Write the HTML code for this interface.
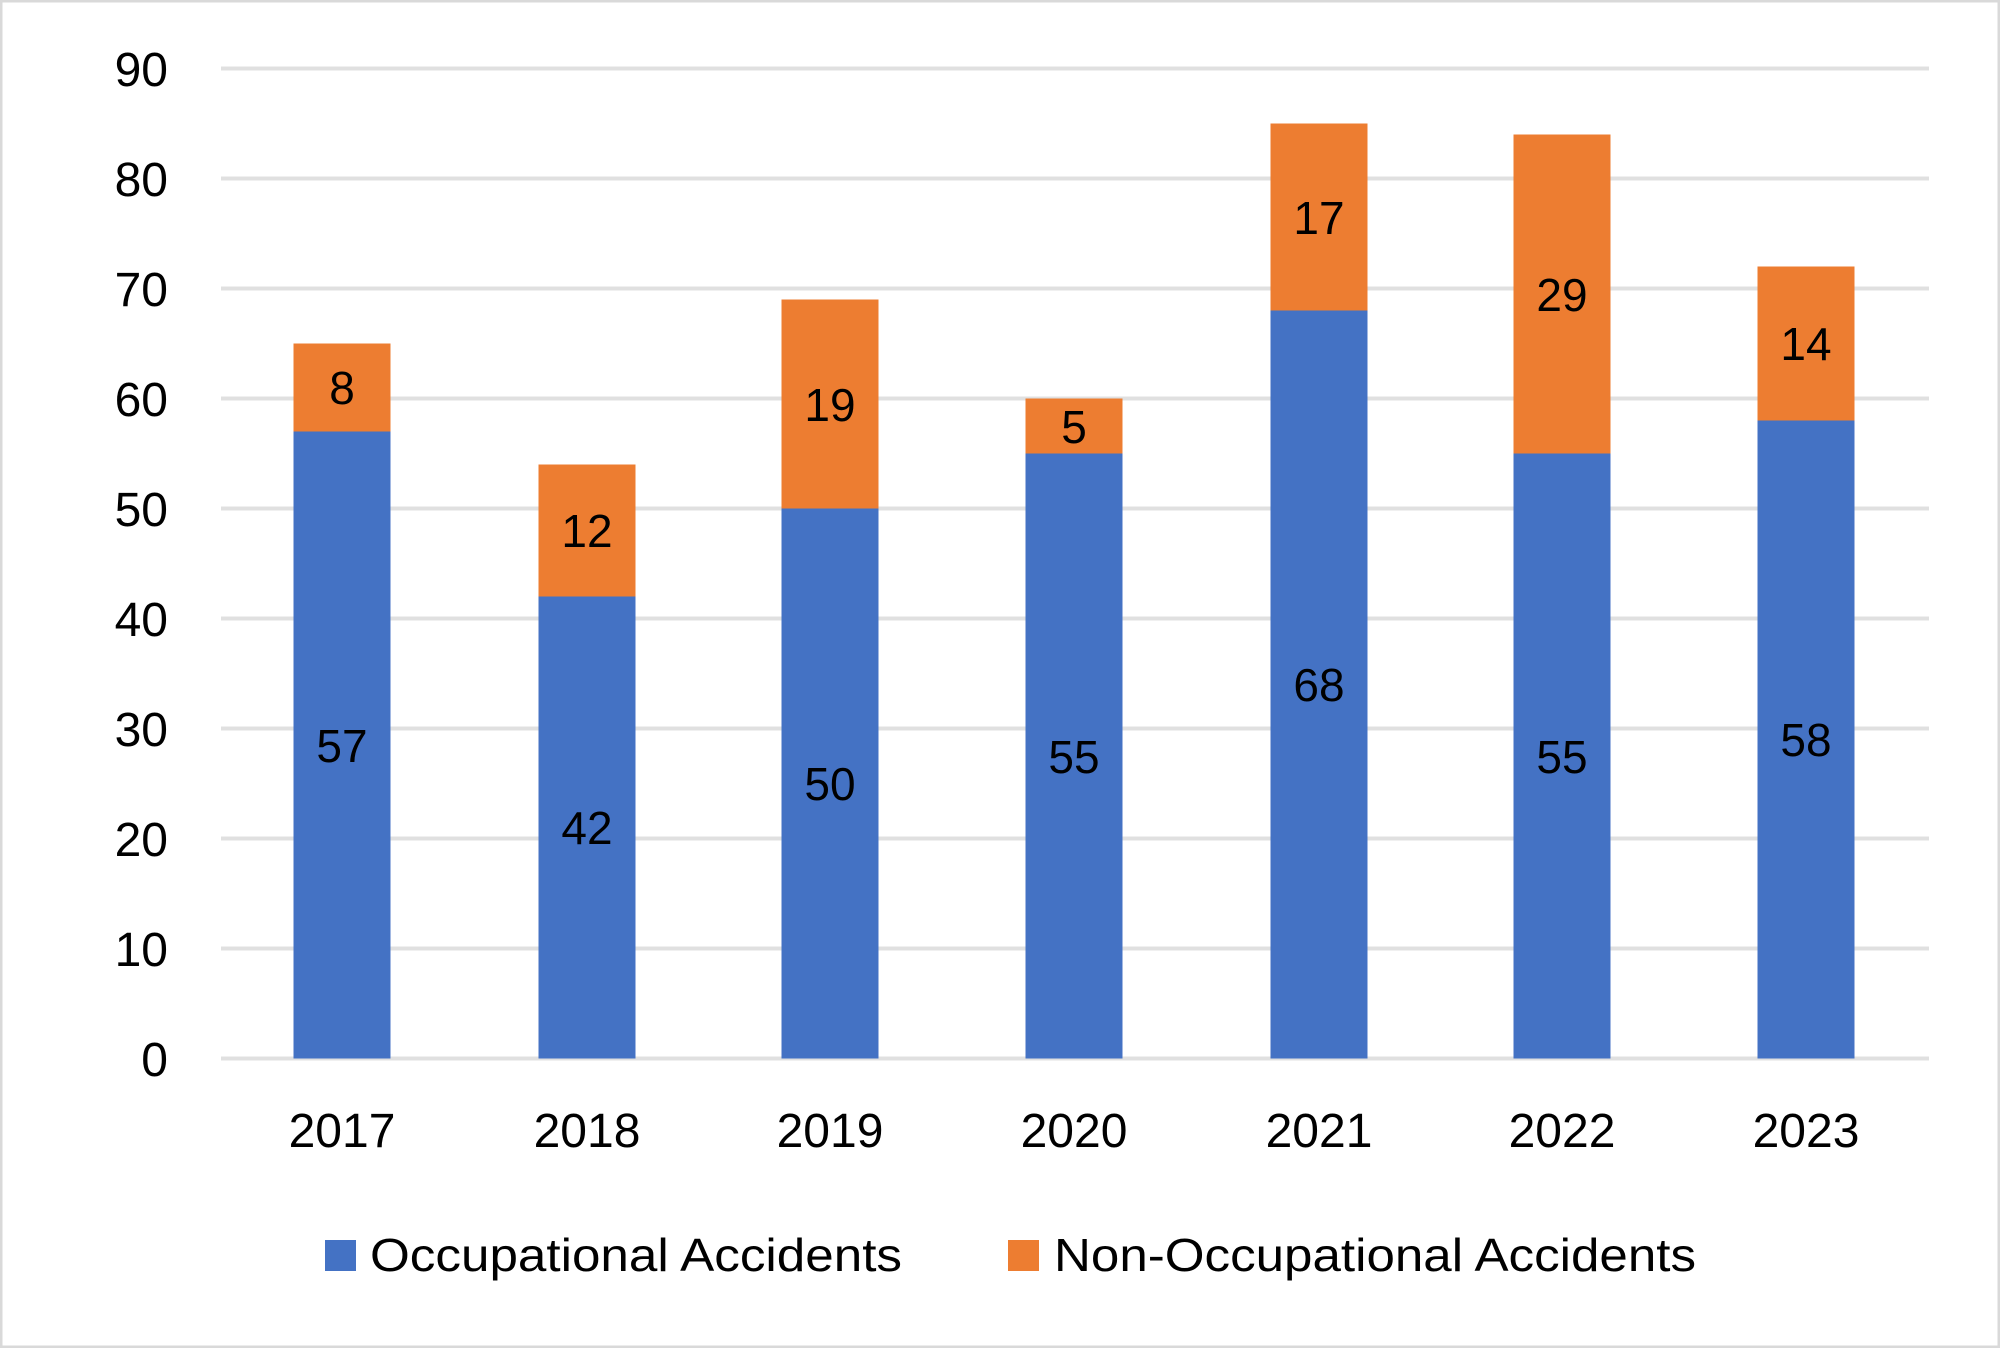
<!DOCTYPE html>
<html><head><meta charset="utf-8"><style>
html,body{margin:0;padding:0;background:#fff}
svg{display:block}
text{font-family:"Liberation Sans",sans-serif;fill:#000}
</style></head><body>
<svg width="2000" height="1348" viewBox="0 0 2000 1348" xmlns="http://www.w3.org/2000/svg">
<rect x="1" y="1" width="1998" height="1346" fill="#fff" stroke="#d9d9d9" stroke-width="3"/>
<g stroke="#e0e0e0" stroke-width="4">
<line x1="221" x2="1929" y1="68.5" y2="68.5"/>
<line x1="221" x2="1929" y1="178.5" y2="178.5"/>
<line x1="221" x2="1929" y1="288.5" y2="288.5"/>
<line x1="221" x2="1929" y1="398.5" y2="398.5"/>
<line x1="221" x2="1929" y1="508.5" y2="508.5"/>
<line x1="221" x2="1929" y1="618.5" y2="618.5"/>
<line x1="221" x2="1929" y1="728.5" y2="728.5"/>
<line x1="221" x2="1929" y1="838.5" y2="838.5"/>
<line x1="221" x2="1929" y1="948.5" y2="948.5"/>
<line x1="221" x2="1929" y1="1058.5" y2="1058.5"/>
</g>
<g font-size="48" text-anchor="end">
<text x="168" y="86">90</text><text x="168" y="196">80</text><text x="168" y="306">70</text>
<text x="168" y="416">60</text><text x="168" y="526">50</text><text x="168" y="636">40</text>
<text x="168" y="746">30</text><text x="168" y="856">20</text><text x="168" y="966">10</text>
<text x="168" y="1076">0</text>
</g>
<g fill="#4472c4">
<rect x="293.5" y="431.5" width="97" height="627"/>
<rect x="538.5" y="596.5" width="97" height="462"/>
<rect x="781.5" y="508.5" width="97" height="550"/>
<rect x="1025.5" y="453.5" width="97" height="605"/>
<rect x="1270.5" y="310.5" width="97" height="748"/>
<rect x="1513.5" y="453.5" width="97" height="605"/>
<rect x="1757.5" y="420.5" width="97" height="638"/>
</g>
<g fill="#ed7d31">
<rect x="293.5" y="343.5" width="97" height="88"/>
<rect x="538.5" y="464.5" width="97" height="132"/>
<rect x="781.5" y="299.5" width="97" height="209"/>
<rect x="1025.5" y="398.5" width="97" height="55"/>
<rect x="1270.5" y="123.5" width="97" height="187"/>
<rect x="1513.5" y="134.5" width="97" height="319"/>
<rect x="1757.5" y="266.5" width="97" height="154"/>
</g>
<g font-size="46" text-anchor="middle">
<text x="342" y="762">57</text><text x="342" y="404">8</text>
<text x="587" y="844">42</text><text x="587" y="547">12</text>
<text x="830" y="800">50</text><text x="830" y="421">19</text>
<text x="1074" y="773">55</text><text x="1074" y="443">5</text>
<text x="1319" y="701">68</text><text x="1319" y="234">17</text>
<text x="1562" y="773">55</text><text x="1562" y="311">29</text>
<text x="1806" y="756">58</text><text x="1806" y="360">14</text>
</g>
<g font-size="48" text-anchor="middle">
<text x="342" y="1147">2017</text><text x="587" y="1147">2018</text>
<text x="830" y="1147">2019</text><text x="1074" y="1147">2020</text>
<text x="1319" y="1147">2021</text><text x="1562" y="1147">2022</text>
<text x="1806" y="1147">2023</text>
</g>
<rect x="325" y="1240" width="31" height="31" fill="#4472c4"/>
<text x="370" y="1271" font-size="46" textLength="532" lengthAdjust="spacingAndGlyphs">Occupational Accidents</text>
<rect x="1008" y="1240" width="31" height="31" fill="#ed7d31"/>
<text x="1054" y="1271" font-size="46" textLength="642" lengthAdjust="spacingAndGlyphs">Non-Occupational Accidents</text>
</svg>
</body></html>
